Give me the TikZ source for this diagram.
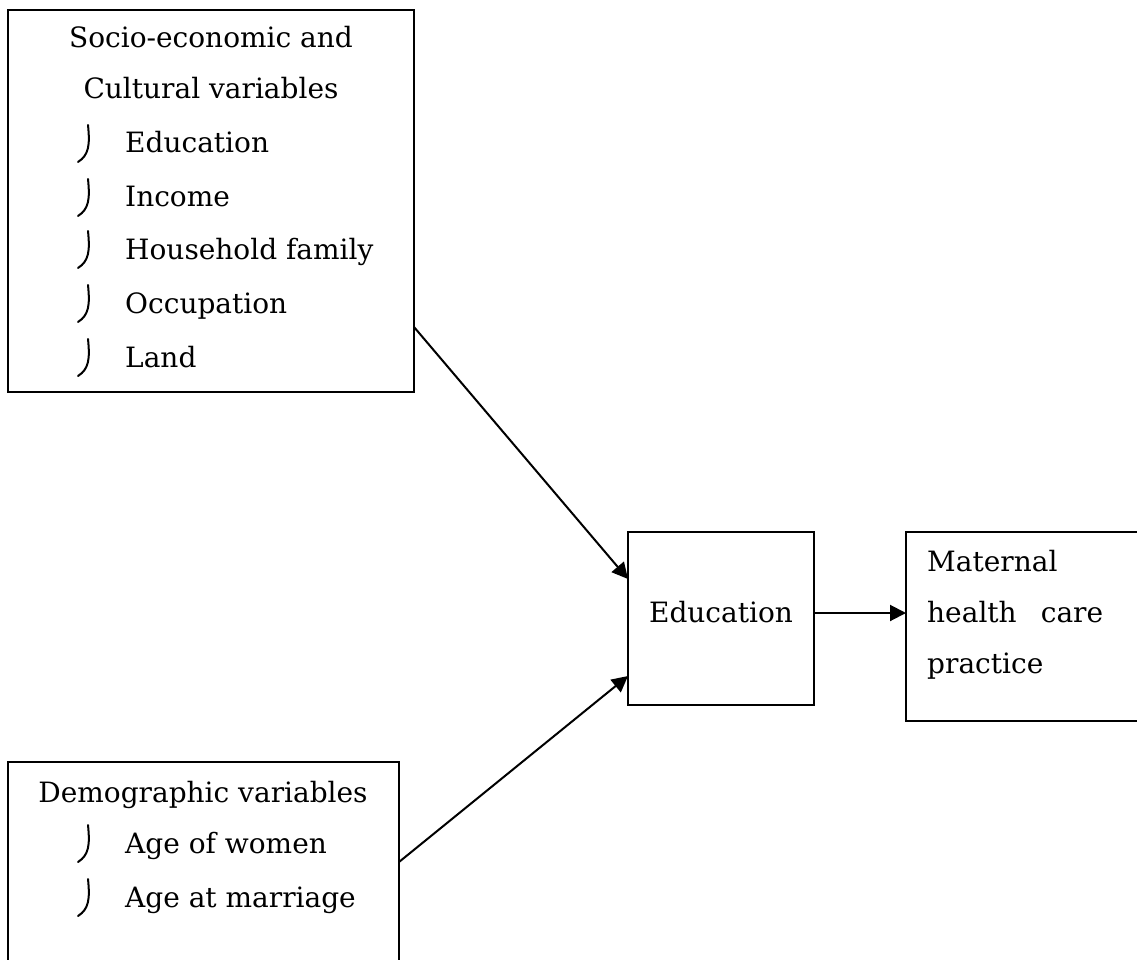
\documentclass[tikz,border=0pt]{standalone}
\usepackage{fontspec}
\setmainfont{DejaVu Serif}
\usetikzlibrary{arrows.meta}
\tikzset{
  box/.style={draw, line width=2.2pt, inner sep=0pt, outer sep=0pt},
  lbl/.style={inner sep=0pt, font=\fontsize{28}{32}\selectfont},
  arr/.style={line width=2pt, -{Triangle[length=16pt,width=16pt]}},
  bul/.style={line width=2pt, line cap=round},
}
\newcommand{\mybul}[2]{\draw[bul] (#1+10,#2-28) .. controls (#1+12,#2-8) and (#1+11,#2+2) .. (#1,#2+9);}
\begin{document}
\begin{tikzpicture}[x=1pt,y=-1pt]
\useasboundingbox (0,0) rectangle (1137,960);
% boxes
\node[box, minimum width=406pt, minimum height=382pt] (socio) at (211,201) {};
\node[box, minimum width=391pt, minimum height=240pt] (demo) at (203.5,882) {};
\node[box, minimum width=186pt, minimum height=173pt] (edu) at (721,618.5) {};
\node[box, minimum width=260pt, minimum height=189pt] (mat) at (1036,626.5) {};
% socio texts
\node[lbl, anchor=base] (s1) at (211,48) {Socio-economic and};
\node[lbl, anchor=base] (s2) at (211,99) {Cultural variables};
\node[lbl, anchor=base west] (i1) at (125,153) {Education};
\node[lbl, anchor=base west] (i2) at (125,207) {Income};
\node[lbl, anchor=base west] (i3) at (125,259) {Household family};
\node[lbl, anchor=base west] (i4) at (125,313) {Occupation};
\node[lbl, anchor=base west] (i5) at (125,367) {Land};
\mybul{78}{153}
\mybul{78}{207}
\mybul{78}{259}
\mybul{78}{313}
\mybul{78}{367}
% demo texts
\node[lbl, anchor=base] (d1) at (203,802) {Demographic variables};
\node[lbl, anchor=base west] (d2) at (125,853) {Age of women};
\node[lbl, anchor=base west] (d3) at (125,907) {Age at marriage};
\mybul{78}{853}
\mybul{78}{907}
% education
\node[lbl, anchor=base] (e1) at (721,622) {Education};
% maternal
\node[lbl, anchor=base west] (m1) at (927,571) {Maternal};
\node[lbl, anchor=base west] (m2) at (927,622) {\hbox to 176pt{health\hfill care}};
\node[lbl, anchor=base west] (m3) at (927,673) {practice};
% arrows
\draw[arr] (socio.east |- 0,327) -- (edu.west |- 0,579);
\draw[arr] (demo.east |- 0,862) -- (edu.west |- 0,676);
\draw[arr] (edu.east |- 0,613) -- (mat.west |- 0,613);
\end{tikzpicture}
\end{document}
